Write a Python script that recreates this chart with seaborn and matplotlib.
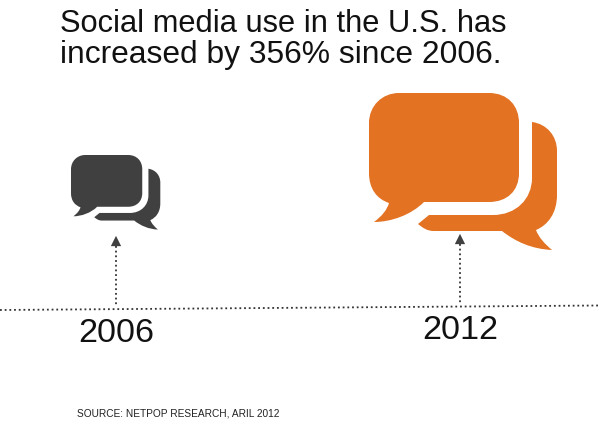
import numpy as np
import pandas as pd
import seaborn as sns
import matplotlib.pyplot as plt
from matplotlib.patches import PathPatch
from matplotlib.path import Path

years = [2006, 2012]
year_labels = ["2006", "2012"]
icon_scale = [0.475, 1.0]
icon_colors = ["#404040", "#E37222"]
title_lines = ["Social media use in the U.S. has", "increased by 356% since 2006."]
source = "SOURCE: NETPOP RESEARCH, ARIL 2012"

PX_PER_YEAR = 57.33
M, L, C, Z = Path.MOVETO, Path.LINETO, Path.CURVE4, Path.CLOSEPOLY

# icon outline, pixel offsets from the top left corner of the big bubble
front = [
    (M, 30, 0), (L, 120, 0), (C, 139, 0), (C, 150, 13), (C, 150, 30),
    (L, 150, 80), (C, 150, 98), (C, 138, 109), (C, 120, 109),
    (L, 55, 109), (C, 42, 122), (C, 22, 129), (C, 5, 129),
    (C, 13, 123), (C, 18, 117), (C, 20, 110),
    (C, 8, 106), (C, 0, 96), (C, 0, 80),
    (L, 0, 30), (C, 0, 13), (C, 13, 0), (C, 30, 0), (Z, 30, 0),
]
back = [
    (M, 163, 29), (C, 178, 31), (C, 188, 43), (C, 188, 58),
    (L, 188, 102), (C, 188, 120), (C, 179, 132), (C, 167, 137),
    (C, 170, 145), (C, 176, 151), (C, 183, 157),
    (C, 163, 156), (C, 147, 149), (C, 133, 138),
    (L, 65, 138), (C, 58, 138), (C, 54, 135), (C, 49, 131),
    (L, 60, 122), (L, 124, 122), (C, 147, 122), (C, 163, 106), (C, 163, 85),
    (L, 163, 29), (Z, 163, 29),
]


def draw_icon(ax, year, left, top, scale, color):
    x0 = year + (left - (116 + (year - 2006) * PX_PER_YEAR)) / PX_PER_YEAR
    for shape in (front, back):
        codes = [s[0] for s in shape]
        verts = [(x0 + s[1] * scale / PX_PER_YEAR, top + s[2] * scale) for s in shape]
        ax.add_patch(PathPatch(Path(verts, codes), fc=color, ec="none"))


sns.set_style("white")
plt.rcParams["font.family"] = ["Liberation Sans", "DejaVu Sans"]

fig = plt.figure(figsize=(5.99, 4.30), dpi=100)
ax = fig.add_axes([0, 0, 1, 1])
xmin = 2006 - 116 / PX_PER_YEAR
ax.set_xlim(xmin, xmin + 599 / PX_PER_YEAR)
ax.set_ylim(430, 0)
ax.axis("off")

# baseline, scan of the original leans a little
base = pd.DataFrame({"x": [xmin, xmin + 599 / PX_PER_YEAR], "y": [310, 305.5]})
sns.lineplot(data=base, x="x", y="y", ax=ax, color="#333333", lw=1.3,
             linestyle=(0, (1, 1.6)), errorbar=None)

stem_bottom = [307, 305]
stem_top = [246, 244]
icon_left = [71, 369]
icon_top = [155, 93]
year_y = [342, 339]
for i, year in enumerate(years):
    stem = pd.DataFrame({"x": [year, year], "y": [stem_bottom[i], stem_top[i]]})
    sns.lineplot(data=stem, x="x", y="y", ax=ax, color="#333333", lw=1.3,
                 linestyle=(0, (1, 1.6)), errorbar=None, orient="y")
    sns.scatterplot(x=[year], y=[stem_top[i] - 5], ax=ax, marker="^", s=55,
                    color="#404040", edgecolor="none", legend=False)
    draw_icon(ax, year, icon_left[i], icon_top[i], icon_scale[i], icon_colors[i])
    ax.text(year, year_y[i], year_labels[i], ha="center", va="baseline",
            fontsize=24.6, color="#111111")

ax.text(60 / PX_PER_YEAR + xmin, 32, title_lines[0], ha="left", va="baseline",
        fontsize=22.2, color="#111111")
ax.text(60 / PX_PER_YEAR + xmin, 63, title_lines[1], ha="left", va="baseline",
        fontsize=22.9, color="#111111")
ax.text(77 / PX_PER_YEAR + xmin, 416, source, ha="left", va="baseline",
        fontsize=7.25, color="#222222")

fig.savefig("out.png", dpi=100)
